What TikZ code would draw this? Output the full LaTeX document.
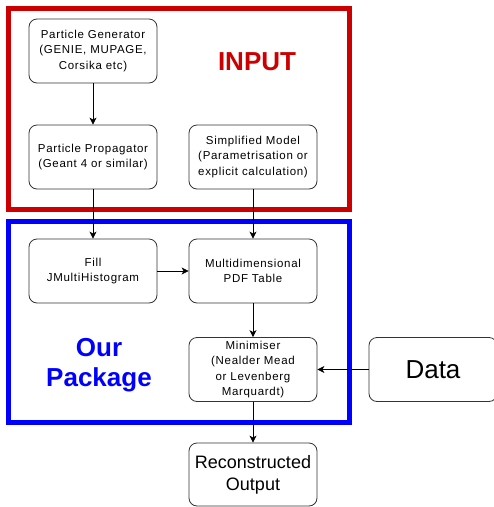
\documentclass[tikz,border=0pt]{standalone}
\usepackage{fontspec}
\setmainfont{Liberation Sans}
\newfontfamily\boxfont[LetterSpace=6]{Liberation Sans}
\usetikzlibrary{arrows.meta}
\definecolor{inred}{RGB}{204,0,0}
\definecolor{pkgblue}{RGB}{0,0,255}

\begin{document}
\begin{tikzpicture}[x=1pt,y=-1pt,
  blk/.style={draw=black!80,line width=0.8pt,rounded corners=8pt,
    minimum width=128pt,minimum height=64pt,inner sep=2pt,align=center,
    font=\boxfont\fontsize{11.5}{15.5}\selectfont},
  conn/.style={-{Stealth[length=7pt,width=7pt,inset=2pt]},line width=0.7pt},
  frame/.style={line width=5pt},
  title/.style={align=center,font=\bfseries\fontsize{26}{30}\selectfont}]
\useasboundingbox (0,0) rectangle (494,507);
% the two frames
\draw[frame,inred] (8.5,8.5) rectangle (349.5,209.5);
\draw[frame,pkgblue] (8.5,221) rectangle (349.5,422);
\node[title,inred] (input) at (257,62) {INPUT};
\node[title,pkgblue] (ours) at (99,365) {Our\\Package};
% boxes
\node[blk] (gen) at (93,51) {Particle Generator\\(GENIE, MUPAGE,\\Corsika etc)};
\node[blk] (prop) at (93,157) {Particle Propagator\\(Geant 4 or similar)};
\node[blk] (model) at (253,157) {Simplified Model\\(Parametrisation or\\explicit calculation)};
\node[blk] (fill) at (93,271) {Fill\\JMultiHistogram};
\node[blk] (pdf) at (253,271) {Multidimensional\\PDF Table};
\node[blk] (mini) at (253,369.5) {Minimiser\\(Nealder Mead\\or Levenberg\\Marquardt)};
\node[blk,font=\fontsize{26}{30}\selectfont] (data) at (433,369.5) {Data};
\node[blk,minimum height=63pt,font=\fontsize{18}{22}\selectfont] (out) at (253,474.5) {Reconstructed\\Output};
% connectors
\draw[conn] (gen) -- (prop);
\draw[conn] (prop) -- (fill);
\draw[conn] (model) -- (pdf);
\draw[conn] (fill) -- (pdf);
\draw[conn] (pdf) -- (mini);
\draw[conn] (data) -- (mini);
\draw[conn] (mini) -- (out);
\end{tikzpicture}
\end{document}
